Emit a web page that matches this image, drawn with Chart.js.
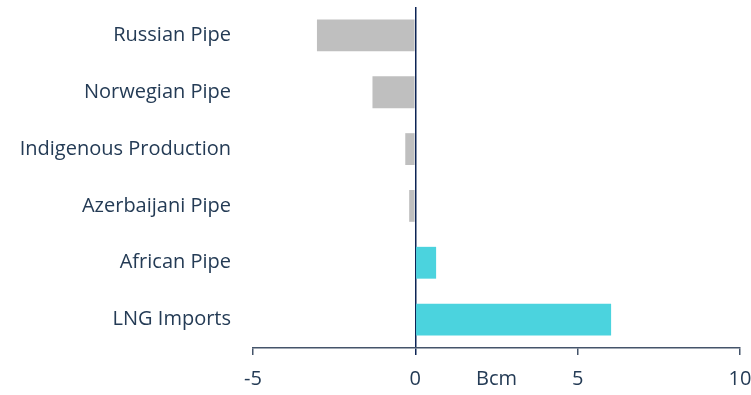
<!DOCTYPE html>
<html>
<head>
<meta charset="utf-8">
<script src="https://cdn.jsdelivr.net/npm/chart.js@4"></script>
<style>
  html,body{margin:0;padding:0;background:#fff;}
  #wrap{width:751px;height:395px;}
</style>
</head>
<body>
<div id="wrap"><canvas id="chart"></canvas></div>
<script>
const categories=["Russian Pipe","Norwegian Pipe","Indigenous Production","Azerbaijani Pipe","African Pipe","LNG Imports"];
const changeBcm=[-3.03,-1.32,-0.31,-0.19,0.64,6.03];
const xTicks=[-5,0,5,10];
const unitLabel="Bcm";

const textColor="#243B55";
const navy="#0D2455";
const slate="#44546A";
const fontSize=20;

// draws "Bcm" in the tick-label row, centred on the plot
const unitPlugin={
    id:"unitLabel",
    afterDraw(chart){
        const ctx=chart.ctx;
        const x=chart.scales.x;
        ctx.save();
        ctx.font=fontSize+"px 'Open Sans'";
        ctx.fillStyle=textColor;
        ctx.textAlign="center";
        ctx.textBaseline="middle";
        ctx.fillText(unitLabel,(chart.chartArea.left+chart.chartArea.right)/2,x.top+31);
        ctx.restore();
    }
};

new Chart(document.getElementById("chart"),{
    type:"bar",
    data:{
        labels:categories,
        datasets:[
            {
                data:changeBcm,
                backgroundColor:changeBcm.map(v=>v<0?"#BFBFBF":"#4BD3DE"),
                categoryPercentage:1,
                barPercentage:0.56
            }
        ]
    },
    options:{
        indexAxis:"y",
        responsive:true,
        maintainAspectRatio:false,
        animation:false,
        layout:{padding:{top:7,right:11,left:0,bottom:0}},
        plugins:{
            legend:{display:false},
            tooltip:{enabled:false}
        },
        scales:{
            x:{
                min:-5,
                max:10,
                afterBuildTicks(scale){
                    scale.ticks=xTicks.map(v=>({value:v}));
                },
                afterFit(scale){
                    scale.height=47;
                    scale.paddingLeft=0;
                    scale.paddingRight=0;
                },
                border:{display:true,color:slate,width:1.5},
                grid:{
                    drawOnChartArea:true,
                    color:c=>c.tick&&c.tick.value===0?navy:"rgba(0,0,0,0)",
                    lineWidth:1.5,
                    tickColor:c=>c.tick&&c.tick.value===0?navy:slate,
                    tickLength:7
                },
                ticks:{
                    color:textColor,
                    font:{family:"'Open Sans'",size:fontSize},
                    padding:12,
                    maxRotation:0
                }
            },
            y:{
                afterFit(scale){
                    scale.width=253;
                    scale.paddingTop=0;
                    scale.paddingBottom=0;
                },
                border:{display:false},
                grid:{display:false,drawTicks:false},
                ticks:{
                    color:textColor,
                    font:{family:"'Open Sans'",size:fontSize},
                    padding:22
                }
            }
        }
    },
    plugins:[unitPlugin]
});
</script>
</body>
</html>
